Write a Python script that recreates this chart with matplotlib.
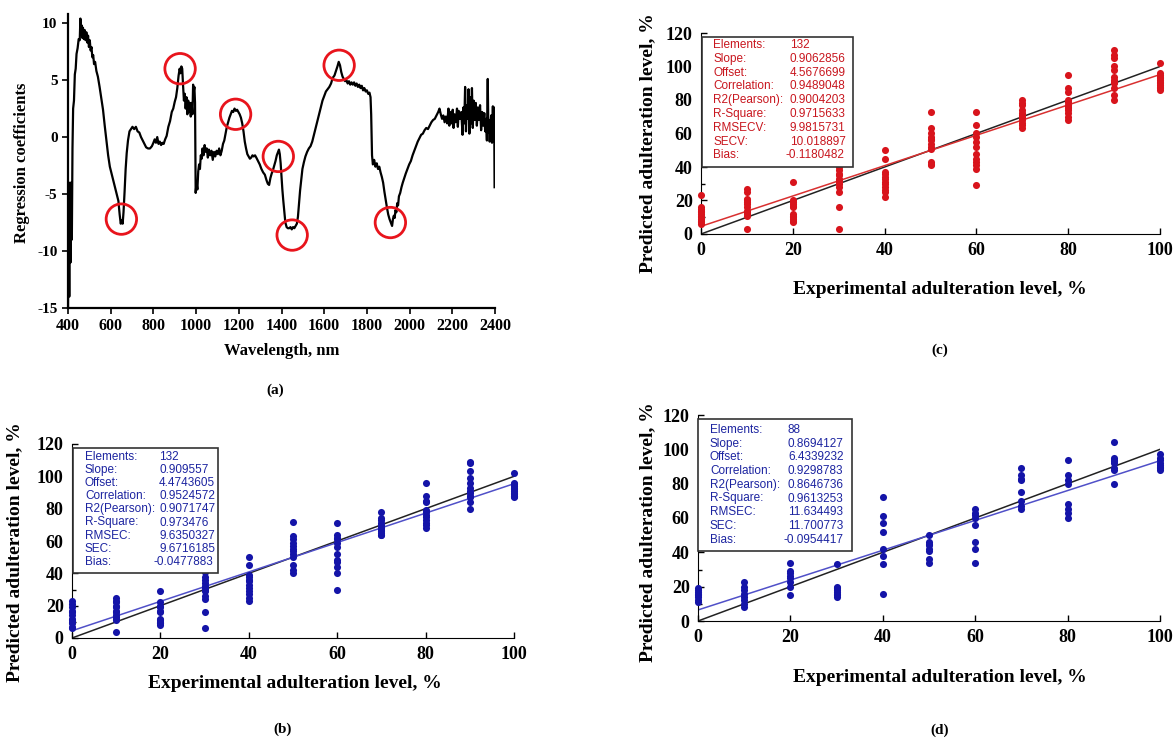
import matplotlib
matplotlib.use('Agg')
import matplotlib.pyplot as plt
from matplotlib.patches import Rectangle

plt.rcParams['axes.unicode_minus'] = False

W, H = 1175, 744
SERIF = 'Liberation Serif'
SANS = 'Liberation Sans'

# ---- panel (a): PLS regression coefficients ----
wavelength = [400, 403, 406, 409, 412, 415, 418, 421, 424, 428, 432, 436, 440, 445, 450, 455, 458, 461, 464, 467,
              470, 474, 478, 482, 486, 490, 494, 498, 502, 506, 510, 514, 518, 522, 527, 533, 540, 548, 556, 564,
              572, 580, 588, 596, 604, 612, 620, 628, 636, 642, 647, 652, 656, 660, 665, 670, 675, 681, 688, 695,
              702, 710, 718, 726, 734, 742, 750, 758, 766, 775, 784, 793, 800, 806, 812, 818, 824, 830, 836, 842,
              848, 855, 862, 870, 878, 886, 893, 900, 906, 912, 918, 923, 927, 931, 935, 939, 943, 947, 951, 955,
              959, 963, 967, 971, 975, 979, 983, 986, 989, 992, 995, 998, 1002, 1006, 1010, 1014, 1018, 1022, 1026, 1030,
              1035, 1040, 1045, 1050, 1055, 1060, 1066, 1072, 1078, 1084, 1090, 1096, 1102, 1108, 1114, 1120, 1126, 1132, 1138, 1144,
              1150, 1156, 1162, 1168, 1174, 1180, 1186, 1192, 1198, 1204, 1210, 1216, 1222, 1228, 1234, 1240, 1246, 1252, 1258, 1264,
              1270, 1276, 1282, 1290, 1298, 1306, 1314, 1322, 1330, 1336, 1342, 1348, 1354, 1360, 1366, 1372, 1378, 1384, 1388, 1392,
              1396, 1400, 1404, 1408, 1413, 1418, 1424, 1430, 1436, 1442, 1448, 1454, 1460, 1466, 1472, 1477, 1482, 1487, 1492, 1498,
              1505, 1512, 1520, 1528, 1536, 1544, 1552, 1560, 1568, 1576, 1584, 1592, 1600, 1608, 1616, 1624, 1632, 1640, 1648, 1655,
              1662, 1668, 1674, 1680, 1686, 1692, 1698, 1704, 1710, 1716, 1722, 1728, 1734, 1740, 1746, 1752, 1758, 1764, 1770, 1776,
              1782, 1788, 1794, 1800, 1806, 1812, 1817, 1820, 1824, 1828, 1834, 1840, 1846, 1852, 1858, 1864, 1870, 1876, 1882, 1888,
              1894, 1900, 1906, 1912, 1918, 1922, 1926, 1930, 1934, 1938, 1942, 1946, 1950, 1956, 1962, 1968, 1975, 1982, 1990, 1998,
              2006, 2014, 2022, 2030, 2038, 2046, 2054, 2062, 2070, 2078, 2086, 2094, 2102, 2110, 2118, 2126, 2134, 2140, 2146, 2152,
              2158, 2164, 2170, 2176, 2182, 2186, 2190, 2196, 2202, 2206, 2210, 2216, 2222, 2226, 2230, 2236, 2242, 2248, 2252, 2256,
              2260, 2264, 2268, 2272, 2276, 2280, 2284, 2288, 2292, 2296, 2300, 2305, 2310, 2315, 2320, 2325, 2330, 2335, 2340, 2345,
              2350, 2354, 2358, 2362, 2366, 2369, 2372, 2375, 2378, 2382, 2386, 2390, 2393, 2396, 2398]
coef = [-15, -6, -14, -4, -11, -4, -9, -1, 2.5, 3.2, 5.5, 6.0, 7.3, 7.8, 8.6, 8.5, 10.4, 9.0, 9.8, 8.7,
        9.6, 8.6, 9.4, 8.5, 9.2, 8.3, 8.9, 7.9, 8.5, 7.6, 7.9, 7.0, 7.2, 6.4, 6.6, 5.8, 5.3, 4.4, 3.4, 2.4,
        1.0, -0.3, -1.6, -2.6, -3.2, -3.8, -4.4, -5.0, -5.6, -6.8, -7.6, -7.3, -7.6, -6.6, -4.8, -2.8, -1.4, -0.3, 0.5, 0.7,
        0.9, 0.7, 0.9, 0.5, 0.4, 0.0, -0.3, -0.6, -0.9, -1.0, -1.0, -0.8, -0.5, -0.2, -0.5, 0.0, -0.6, -0.4, -0.7, -0.5,
        -0.6, -0.2, 0.1, 0.9, 1.4, 2.2, 2.5, 3.1, 3.5, 4.3, 5.4, 6.0, 5.6, 6.2, 6.0, 4.5, 3.2, 3.8, 2.5, 3.5,
        2.0, 3.2, 2.2, 3.0, 1.8, 3.0, 2.0, 4.6, 4.0, 4.4, 3.0, -4.9, -4.0, -4.6, -3.0, -2.4, -2.8, -1.6, -1.9, -1.0,
        -1.6, -0.7, -1.3, -1.0, -1.8, -1.1, -1.6, -1.2, -2.0, -1.3, -1.7, -1.2, -1.5, -1.0, -1.6, -1.2, -0.6, -0.3, 0.3, 0.9,
        1.3, 1.7, 2.0, 2.3, 2.2, 2.5, 2.3, 2.4, 2.2, 2.0, 1.7, 1.2, 0.5, -0.4, -1.0, -1.5, -1.7, -1.9, -1.8, -1.6,
        -1.7, -1.6, -1.8, -2.1, -2.4, -2.8, -3.1, -3.3, -3.8, -4.1, -4.2, -3.6, -3.2, -2.9, -2.5, -2.1, -1.6, -1.3, -1.1, -1.5,
        -2.3, -3.5, -4.6, -5.5, -6.5, -7.5, -7.9, -8.0, -8.0, -7.9, -8.1, -7.9, -8.0, -7.8, -7.6, -7.0, -5.8, -4.7, -3.8, -2.8,
        -2.2, -1.7, -1.3, -1.0, -0.8, -0.4, 0.2, 0.8, 1.4, 2.0, 2.6, 3.2, 3.6, 4.0, 4.2, 4.4, 4.7, 5.2, 5.4, 5.8,
        6.2, 6.6, 6.3, 5.7, 5.3, 5.1, 4.9, 5.0, 4.7, 4.9, 4.6, 4.8, 4.6, 4.8, 4.5, 4.7, 4.4, 4.6, 4.3, 4.5,
        4.1, 4.3, 4.0, 4.1, 3.8, 3.9, 3.5, 2.0, -1.6, -2.4, -2.0, -2.6, -2.3, -2.8, -2.6, -3.1, -3.5, -4.0, -4.8, -5.5,
        -6.2, -6.8, -7.2, -7.5, -7.8, -7.2, -6.9, -7.1, -6.4, -6.6, -5.8, -6.0, -5.2, -4.9, -4.4, -4.0, -3.6, -3.2, -2.8, -2.4,
        -2.1, -1.6, -1.2, -0.8, -0.4, -0.1, 0.2, 0.3, 0.6, 0.8, 0.7, 1.0, 1.3, 1.5, 1.6, 1.9, 2.2, 2.5, 2.0, 1.6,
        1.9, 1.3, 1.8, 1.2, 2.5, 1.0, 2.2, 1.2, 2.4, 0.8, 2.0, 1.3, 2.5, 0.9, 2.3, 1.6, 2.2, 0.2, 2.6, 1.2,
        4.4, 0.5, 2.8, 1.6, 4.2, 0.3, 3.5, 1.2, 4.3, 0.8, 3.2, 1.5, 3.0, 1.0, 2.6, 1.5, 2.8, 0.6, 2.2, 1.0,
        2.1, 0.5, 1.6, -0.3, 5.1, 0.4, 1.5, -0.4, 0.9, 1.9, -0.5, 2.7, -0.2, 2.6, -4.4]
circle_wl = [650, 925, 1185, 1385, 1450, 1670, 1910]
circle_val = [-7.2, 6.0, 2.0, -1.7, -8.6, 6.3, -7.5]

# ---- panels (b), (c), (d): predicted vs experimental ----
levels = [0, 10, 20, 30, 40, 50, 60, 70, 80, 90, 100]

pred_b = [[23, 21, 19, 17, 16, 14, 12, 11, 10, 9, 7, 6],
          [25, 23, 22, 20, 19, 17, 16, 14, 13, 12, 11, 4],
          [29, 22, 20, 19, 17, 16, 12, 11, 10, 9, 9, 8],
          [41, 38, 36, 34, 32, 31, 30, 29, 26, 24, 16, 6],
          [50, 45, 39, 38, 36, 35, 33, 31, 29, 27, 25, 23],
          [72, 63, 61, 59, 57, 55, 54, 52, 50, 45, 42, 40],
          [71, 64, 62, 61, 59, 56, 52, 48, 47, 44, 40, 30],
          [78, 74, 73, 71, 70, 69, 68, 67, 66, 65, 64, 64],
          [96, 88, 85, 84, 79, 78, 76, 75, 73, 71, 70, 68],
          [109, 108, 103, 99, 96, 93, 91, 90, 88, 87, 84, 80],
          [102, 96, 95, 94, 93, 92, 91, 90, 89, 88, 88, 87]]

pred_c = [[23, 16, 15, 14, 13, 12, 11, 10, 9, 8, 7, 6],
          [27, 25, 21, 20, 19, 18, 16, 14, 13, 12, 11, 3],
          [31, 20, 19, 18, 17, 16, 12, 11, 10, 9, 8, 7],
          [40, 38, 36, 35, 33, 32, 31, 30, 28, 25, 16, 3],
          [50, 45, 37, 36, 34, 33, 31, 30, 28, 26, 25, 22],
          [73, 63, 60, 58, 57, 56, 54, 52, 51, 43, 42, 41],
          [73, 65, 60, 58, 55, 52, 48, 45, 43, 41, 39, 29],
          [80, 78, 77, 74, 72, 71, 70, 69, 68, 66, 65, 63],
          [95, 87, 85, 80, 79, 77, 76, 75, 74, 72, 70, 68],
          [110, 107, 105, 100, 98, 94, 92, 91, 90, 87, 83, 80],
          [102, 96, 95, 94, 93, 92, 91, 90, 89, 88, 87, 86]]

pred_d = [[19, 18, 17, 16, 15, 14, 12, 11],
          [23, 20, 18, 16, 14, 12, 10, 8],
          [34, 29, 28, 26, 25, 23, 20, 15],
          [33, 20, 19, 18, 17, 16, 15, 14],
          [72, 61, 57, 52, 42, 38, 33, 16],
          [50, 46, 45, 44, 42, 41, 36, 34],
          [65, 63, 62, 60, 56, 46, 42, 34],
          [89, 85, 83, 82, 75, 70, 67, 65],
          [94, 85, 82, 80, 68, 65, 63, 60],
          [104, 95, 94, 93, 92, 89, 88, 80],
          [97, 95, 94, 92, 91, 90, 89, 88]]

stat_names_cal = ['Elements:', 'Slope:', 'Offset:', 'Correlation:', 'R2(Pearson):',
                  'R-Square:', 'RMSEC:', 'SEC:', 'Bias:']
stat_names_cv = ['Elements:', 'Slope:', 'Offset:', 'Correlation:', 'R2(Pearson):',
                 'R-Square:', 'RMSECV:', 'SECV:', 'Bias:']
stats_b = ['132', '0.909557', '4.4743605', '0.9524572', '0.9071747', '0.973476', '9.6350327', '9.6716185', '-0.0477883']
stats_c = ['132', '0.9062856', '4.5676699', '0.9489048', '0.9004203', '0.9715633', '9.9815731', '10.018897', '-0.1180482']
stats_d = ['88', '0.8694127', '6.4339232', '0.9298783', '0.8646736', '0.9613253', '11.634493', '11.700773', '-0.0954417']


def rect_px(l, t, r, b):
    return [l / W, 1 - b / H, (r - l) / W, (b - t) / H]


def ftext(x, y, s, **kw):
    fig.text(x / W, 1 - y / H, s, **kw)


fig = plt.figure(figsize=(11.75, 7.44), dpi=100)

# (a)
ax = fig.add_axes(rect_px(68, 14, 495, 308))
ax.plot(wavelength, coef, color='black', lw=1.6)
ax.scatter(circle_wl, circle_val, s=480, facecolors='none', edgecolors='#e8141c', linewidths=2, zorder=3)
ax.set_xlim(400, 2400)
ax.set_ylim(-15, 10.8)
ax.set_xticks(range(400, 2401, 200))
ax.set_yticks([-15, -10, -5, 0, 5, 10])
for sp in ['top', 'right']:
    ax.spines[sp].set_visible(False)
for sp in ['left', 'bottom']:
    ax.spines[sp].set_linewidth(1.6)
ax.tick_params(direction='out', length=4, width=1.2)
for lab in ax.get_xticklabels():
    lab.set_fontfamily(SERIF); lab.set_fontweight('bold'); lab.set_fontsize(11.5)
for lab in ax.get_yticklabels():
    lab.set_fontfamily(SERIF); lab.set_fontweight('bold'); lab.set_fontsize(11)
ftext(282, 351, 'Wavelength, nm', ha='center', va='center', family=SERIF, weight='bold', fontsize=12)
ftext(22, 163, 'Regression coefficients', ha='center', va='center', rotation=90,
      family=SERIF, weight='bold', fontsize=12)
ftext(275, 390, '(a)', ha='center', va='center', family=SERIF, weight='bold', fontsize=11)


def pred_panel(axrect, preds, slope, offset, dot_color, fit_color, names, vals, box, label_x, value_x,
               row0, row_step, txt_color, xlab_pos, ylab_pos, cap_pos, cap):
    ax = fig.add_axes(rect_px(*axrect))
    xs = []
    ys = []
    for lv, p in zip(levels, preds):
        xs += [lv] * len(p)
        ys += p
    ax.plot([0, 100], [0, 100], color='#222222', lw=1.1, zorder=2)
    ax.plot([0, 100], [offset, offset + slope * 100], color=fit_color, lw=1.1, zorder=2)
    ax.scatter(xs, ys, s=26, color=dot_color, zorder=3, clip_on=False, linewidths=0)
    ax.set_xlim(0, 100)
    ax.set_ylim(0, 120)
    ax.set_xticks(range(0, 101, 20))
    ax.set_yticks(range(0, 121, 20))
    ax.set_yticks(range(0, 121, 10), minor=True)
    for sp in ['top', 'right']:
        ax.spines[sp].set_visible(False)
    ax.tick_params(direction='in', length=4, width=1, pad=6)
    ax.tick_params(which='minor', direction='in', length=3, width=1)
    for lab in ax.get_xticklabels() + ax.get_yticklabels():
        lab.set_fontfamily(SERIF); lab.set_fontweight('bold'); lab.set_fontsize(13)
    l, t, r, b = box
    fig.patches.append(Rectangle((l / W, 1 - b / H), (r - l) / W, (b - t) / H, transform=fig.transFigure,
                                 facecolor='white', edgecolor='#333333', lw=1.2, zorder=5))
    for i, (n, v) in enumerate(zip(names, vals)):
        y = row0 + i * row_step
        ftext(label_x, y, n, ha='left', va='center', family=SANS, fontsize=8.5, color=txt_color, zorder=6)
        vx = value_x - 5 if v.startswith('-') else value_x
        ftext(vx, y, v, ha='left', va='center', family=SANS, fontsize=8.5, color=txt_color, zorder=6)
    ftext(xlab_pos[0], xlab_pos[1], 'Experimental adulteration level, %', ha='center', va='center',
          family=SERIF, weight='bold', fontsize=14)
    ftext(ylab_pos[0], ylab_pos[1], 'Predicted adulteration level, %', ha='center', va='center',
          rotation=90, family=SERIF, weight='bold', fontsize=14)
    ftext(cap_pos[0], cap_pos[1], cap, ha='center', va='center', family=SERIF, weight='bold', fontsize=11)
    return ax


# (c) cross-validation, red
pred_panel((701, 33, 1160, 234), pred_c, 0.9062856, 4.5676699, '#d8141c', '#d83030',
           stat_names_cv, stats_c, (702, 37, 853, 167), 713, 790, 45, 13.8, '#c8161e',
           (940, 290), (648, 143), (940, 350), '(c)')

# (b) calibration, blue
pred_panel((72, 444, 514, 638), pred_b, 0.909557, 4.4743605, '#1414a8', '#5050c8',
           stat_names_cal, stats_b, (73, 448, 218, 573), 85, 159, 457, 13.1, '#1c24a0',
           (295, 683), (15, 552), (283, 729), '(b)')

# (d) calibration subset, blue
pred_panel((698, 415, 1160, 621), pred_d, 0.8694127, 6.4339232, '#1414a8', '#5050c8',
           stat_names_cal, stats_d, (698, 419, 852, 551), 710, 788, 430, 13.7, '#1c24a0',
           (940, 678), (648, 532), (940, 730), '(d)')

fig.savefig('out.png', dpi=100)
